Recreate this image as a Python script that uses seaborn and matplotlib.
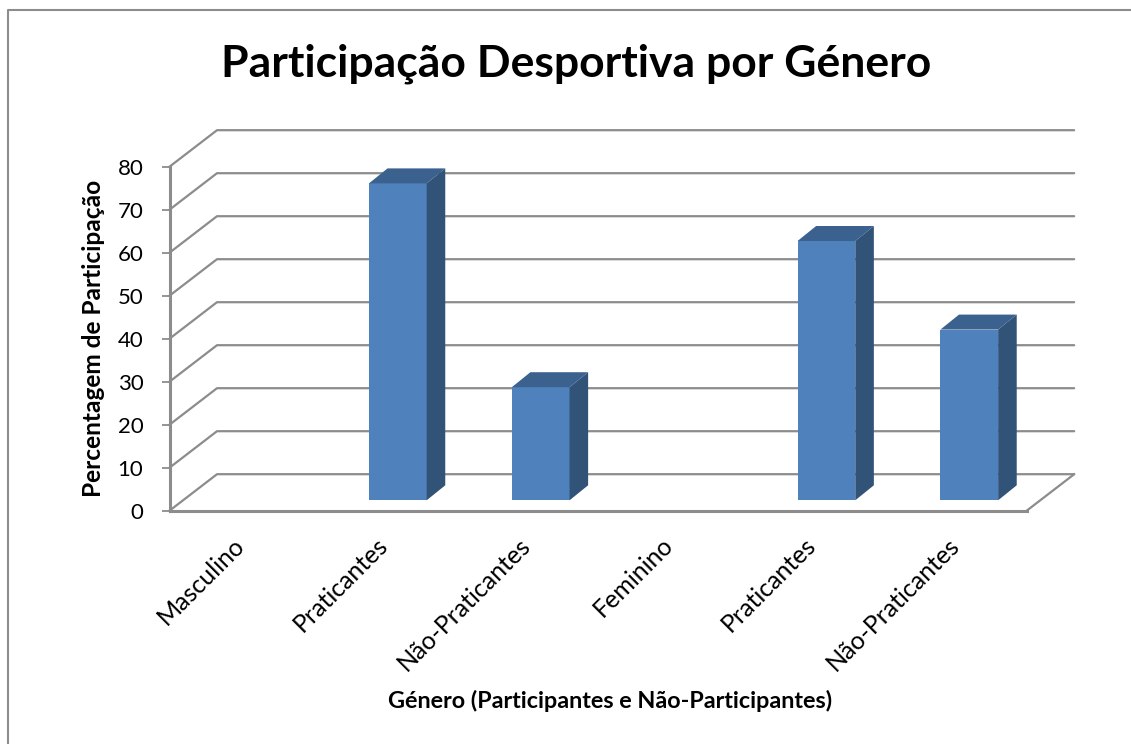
import numpy as np
import pandas as pd
import matplotlib
matplotlib.use("Agg")
import matplotlib.pyplot as plt
from matplotlib.patches import Polygon
from matplotlib.lines import Line2D
from matplotlib.transforms import Affine2D, IdentityTransform
import seaborn as sns

title = "Participação Desportiva por Género"
xlabel = "Género (Participantes e Não-Participantes)"
ylabel = "Percentagem de Participação"
categories = ["Masculino", "Praticantes", "Não-Praticantes", "Feminino", "Praticantes", "Não-Praticantes"]
values = [np.nan, 73.7, 26.3, np.nan, 60.3, 39.7]
yticks = [0, 10, 20, 30, 40, 50, 60, 70, 80]

W, H = 1131, 744
GRAY = "#8C8C8C"
FRONT, TOP, SIDE = "#4F81BD", "#3B618F", "#325378"
WALL = (47.5, 36.5)
BAR_SHIFT = (14.0, 10.4)
BAR_DEPTH = (18.6, 15.0)
LW = 1.6

sns.set_theme(style="white")
plt.rcParams["font.family"] = ["Lato", "DejaVu Sans"]
fig = plt.figure(figsize=(W / 100, H / 100), dpi=100, facecolor="white")
L, R, B, T = 169.5, 1026.7, 510.7, 166.7
ax = fig.add_axes([L / W, 1 - B / H, (R - L) / W, (B - T) / H])
ax.patch.set_alpha(0)

df = pd.DataFrame({"pos": range(len(categories)), "value": values})
sns.barplot(data=df, x="pos", y="value", order=list(range(len(categories))),
            color=FRONT, saturation=1, width=0.404, ax=ax, zorder=5, linewidth=0)
ax.set_xlim(-0.5, len(categories) - 0.5)
ax.set_ylim(0, 80)

# Walls and floor
idt = IdentityTransform()
for v in yticks:
    x0, y0 = ax.transData.transform((-0.5, v))
    x1, _ = ax.transData.transform((len(categories) - 0.5, v))
    ax.add_line(Line2D([x0, x0 + WALL[0], x1 + WALL[0]], [y0, y0 + WALL[1], y0 + WALL[1]],
                       transform=idt, color=GRAY, lw=LW, clip_on=False, zorder=1))
x1, y0 = ax.transData.transform((len(categories) - 0.5, 0))
ax.add_line(Line2D([x1, x1 + WALL[0]], [y0, y0 + WALL[1]], transform=idt,
                   color=GRAY, lw=LW, clip_on=False, zorder=1))

# Bar depth
shift = Affine2D().translate(*BAR_SHIFT)
dx, dy = BAR_DEPTH
for p in list(ax.patches):
    h = p.get_height()
    if not np.isfinite(h) or h == 0:
        continue
    xa, ya = ax.transData.transform((p.get_x(), 0)) + BAR_SHIFT
    xb, yb = ax.transData.transform((p.get_x() + p.get_width(), h)) + BAR_SHIFT
    p.set_transform(ax.transData + shift)
    p.set_clip_on(False)
    p.set_edgecolor("none")
    ax.add_patch(Polygon([(xa, yb), (xb, yb), (xb + dx, yb + dy), (xa + dx, yb + dy)],
                         transform=idt, facecolor=TOP, edgecolor="none", clip_on=False, zorder=5))
    ax.add_patch(Polygon([(xb, ya), (xb + dx, ya + dy), (xb + dx, yb + dy), (xb, yb)],
                         transform=idt, facecolor=SIDE, edgecolor="none", clip_on=False, zorder=5))

# Axes
for s in ["top", "right"]:
    ax.spines[s].set_visible(False)
for s in ["left", "bottom"]:
    ax.spines[s].set_color(GRAY)
    ax.spines[s].set_linewidth(2.2)
    ax.spines[s].set_zorder(6)
ax.set_yticks(yticks)
ax.set_xticks(range(len(categories)))
ax.set_xticklabels(categories, rotation=45, ha="right", va="center", rotation_mode="anchor")
ax.tick_params(axis="y", length=5.8, width=1.3, color=GRAY, pad=13, labelsize=16, labelcolor="black", left=True)
ax.tick_params(axis="x", length=0, pad=22, labelsize=18, labelcolor="black")

# Titles
ax.set_xlabel("")
ax.set_ylabel("")
fig.text(576 / W, 1 - 76 / H, title, ha="center", va="baseline", fontsize=32, fontweight="bold", color="black")
fig.text(610 / W, 1 - 708 / H, xlabel, ha="center", va="baseline", fontsize=16.8, fontweight="bold", color="black")
fig.text(100.7 / W, 1 - 338 / H, ylabel, ha="center", va="baseline", rotation=90, rotation_mode="anchor",
         fontsize=17.6, fontweight="bold", color="black")

# Partial chart frame
fig.add_artist(Line2D([7.5 / W, 7.5 / W, 1], [0, 1 - 9.7 / H, 1 - 9.7 / H],
                      transform=fig.transFigure, color=GRAY, lw=1.5))

fig.savefig("out.png", dpi=100, facecolor="white")
